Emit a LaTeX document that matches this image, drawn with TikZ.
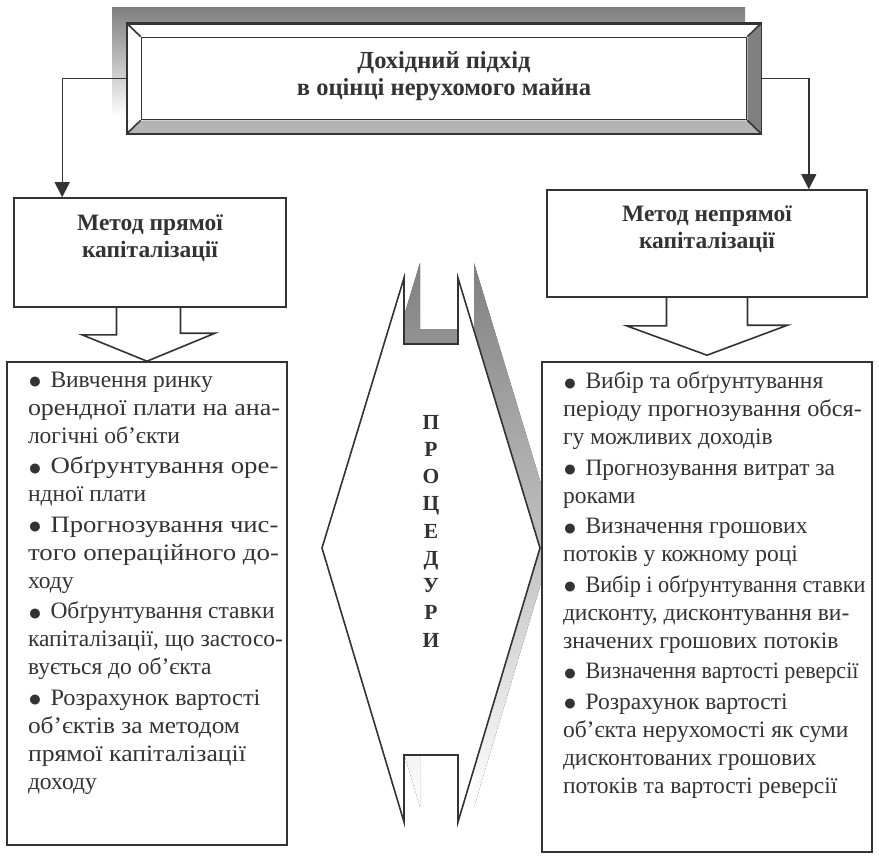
\documentclass[tikz,border=0pt]{standalone}
\usepackage{fontspec}
\usepackage{graphicx}
\setmainfont{Liberation Serif}
\usetikzlibrary{arrows.meta,positioning}

\definecolor{ink}{HTML}{333333}
\definecolor{shade}{HTML}{C8C8C8}
\definecolor{bevelright}{HTML}{808080}
\definecolor{bevelbottom}{HTML}{B4B4B4}

\newcommand\itm{\makebox[22.5pt][l]{\raisebox{-1.2pt}{\fontsize{23}{23}\selectfont ●}}}
\newcommand\fit[2]{\resizebox{#1}{\height}{#2}}

\begin{document}
\begin{tikzpicture}[x=1pt,y=-1pt,line width=1.6pt,color=ink,
  box/.style={draw=ink,fill=white,inner sep=0pt},
  headtext/.style={font=\fontsize{23.5}{27}\selectfont\bfseries,align=center},
  listtext/.style={font=\fontsize{23.5}{28}\selectfont,align=left,
    inner sep=0pt,anchor=north west},
  link/.style={line width=1.4pt,-{Triangle[length=15pt,width=15pt]}}]

\newcommand\GAP{2.5pt}

  \useasboundingbox (0,0) rectangle (879,856);

  %% approach box with bevel and shadow
  \fill[shade] (112,8) rectangle (745,117);
  \node[box,minimum width=633pt,minimum height=109pt] (approach) at (444,78.5) {};
  \fill[bevelright] (approach.north east) -- (approach.south east)
  -- ++(-14,-13.5) -- ++(0,-82) -- cycle;
  \fill[bevelbottom] (approach.south west) -- (approach.south east)
  -- ++(-14,-13.5) -- ++(-605,0) -- cycle;
  \node[box,minimum width=605pt,minimum height=82pt] (approachin) at (444,78.5) {};
  \draw (approach.north west) -- (approachin.north west);
  \draw (approach.north east) -- (approachin.north east);
  \draw (approach.south west) -- (approachin.south west);
  \draw (approach.south east) -- (approachin.south east);
  \draw (approach.north west) rectangle (approach.south east);
  \node[headtext,font=\fontsize{24.5}{27}\selectfont\bfseries] (title) at (444,76)
  {Дохідний підхід\\в оцінці нерухомого майна};

  %% methods
  \node[box,minimum width=272pt,minimum height=109pt] (direct) at (150,252.5) {};
  \node[headtext] (directhead) at (150,238) {Метод прямої\\капіталізації};
  \node[box,minimum width=320pt,minimum height=107pt] (indirect) at (707,243.5) {};
  \node[headtext] (indirecthead) at (707,229.5) {Метод непрямої\\капіталізації};

  \draw[link] (approach.west) -| ([xshift=49pt]direct.north west);
  \draw[link] (approach.east) -| ([xshift=-59pt]indirect.north east);

  %% procedures double arrow
  \fill[shade,shift={(16pt,15pt)}] (404,278) -- (322,548) -- (404,822)
  -- (404,755) -- (458,755) -- (458,822) -- (540,548) -- (458,278)
  -- (458,344) -- (404,344) -- cycle;
  \draw[fill=white,line join=miter] (404,278) -- (322,548) -- (404,822)
  -- (404,755) -- (458,755) -- (458,822) -- (540,548) -- (458,278)
  -- (458,344) -- (404,344) -- cycle;
  \node[font=\fontsize{21.5}{27.25}\selectfont\bfseries,align=center] (procedures)
  at (431,531) {П\\Р\\О\\Ц\\Е\\Д\\У\\Р\\И};

  %% lists
  \node[box,minimum width=280pt,minimum height=483pt] (directlist) at (147,603.5) {};
  \node[box,minimum width=330pt,minimum height=490pt] (indirectlist) at (707,607) {};

  \draw[line join=miter] ([xshift=-33.5pt]direct.south) -- ++(0,27) -- ++(-34.5,0)
  -- (directlist.north) -- ++(68,-28) -- ++(-34.5,0) -- ++(0,-27);
  \draw[line join=miter] ([xshift=-40.5pt]indirect.south) -- ++(0,28) -- ++(-40,0)
  -- ([yshift=6pt]indirectlist.north) -- ++(80.5,-30) -- ++(-40,0) -- ++(0,-28);

  \node[listtext] (directitems) at ([shift={(21pt,-10pt)}]directlist.north west)
  {\itm Вивчення ринку\\
   \fit{252pt}{орендної плати на ана-}\\
   логічні об’єкти\\[\GAP]
   \itm\fit{228pt}{Обґрунтування оре-}\\
   ндної плати\\[\GAP]
   \itm\fit{228pt}{Прогнозування чис-}\\
   \fit{251pt}{того операційного до-}\\
   ходу\\[\GAP]
   \itm Обґрунтування ставки\\
   капіталізації, що застосо-\\
   вується до об’єкта\\[\GAP]
   \itm\fit{210pt}{Розрахунок вартості}\\
   \fit{212pt}{об’єктів за методом}\\
   \fit{218pt}{прямої капіталізації}\\
   доходу};

  \node[listtext] (indirectitems) at ([shift={(21pt,-10pt)}]indirectlist.north west)
  {\itm Вибір та обґрунтування\\
   \fit{299pt}{періоду прогнозування обся-}\\
   гу можливих доходів\\[\GAP]
   \itm Прогнозування витрат за\\
   роками\\[\GAP]
   \itm Визначення грошових\\
   потоків у кожному році\\[\GAP]
   \itm\fit{280pt}{Вибір і обґрунтування ставки}\\
   дисконту, дисконтування ви-\\
   значених грошових потоків\\[\GAP]
   \itm\fit{273pt}{Визначення вартості реверсії}\\[\GAP]
   \itm Розрахунок вартості\\
   об’єкта нерухомості як суми\\
   дисконтованих грошових\\
   потоків та вартості реверсії};

\end{tikzpicture}
\end{document}
